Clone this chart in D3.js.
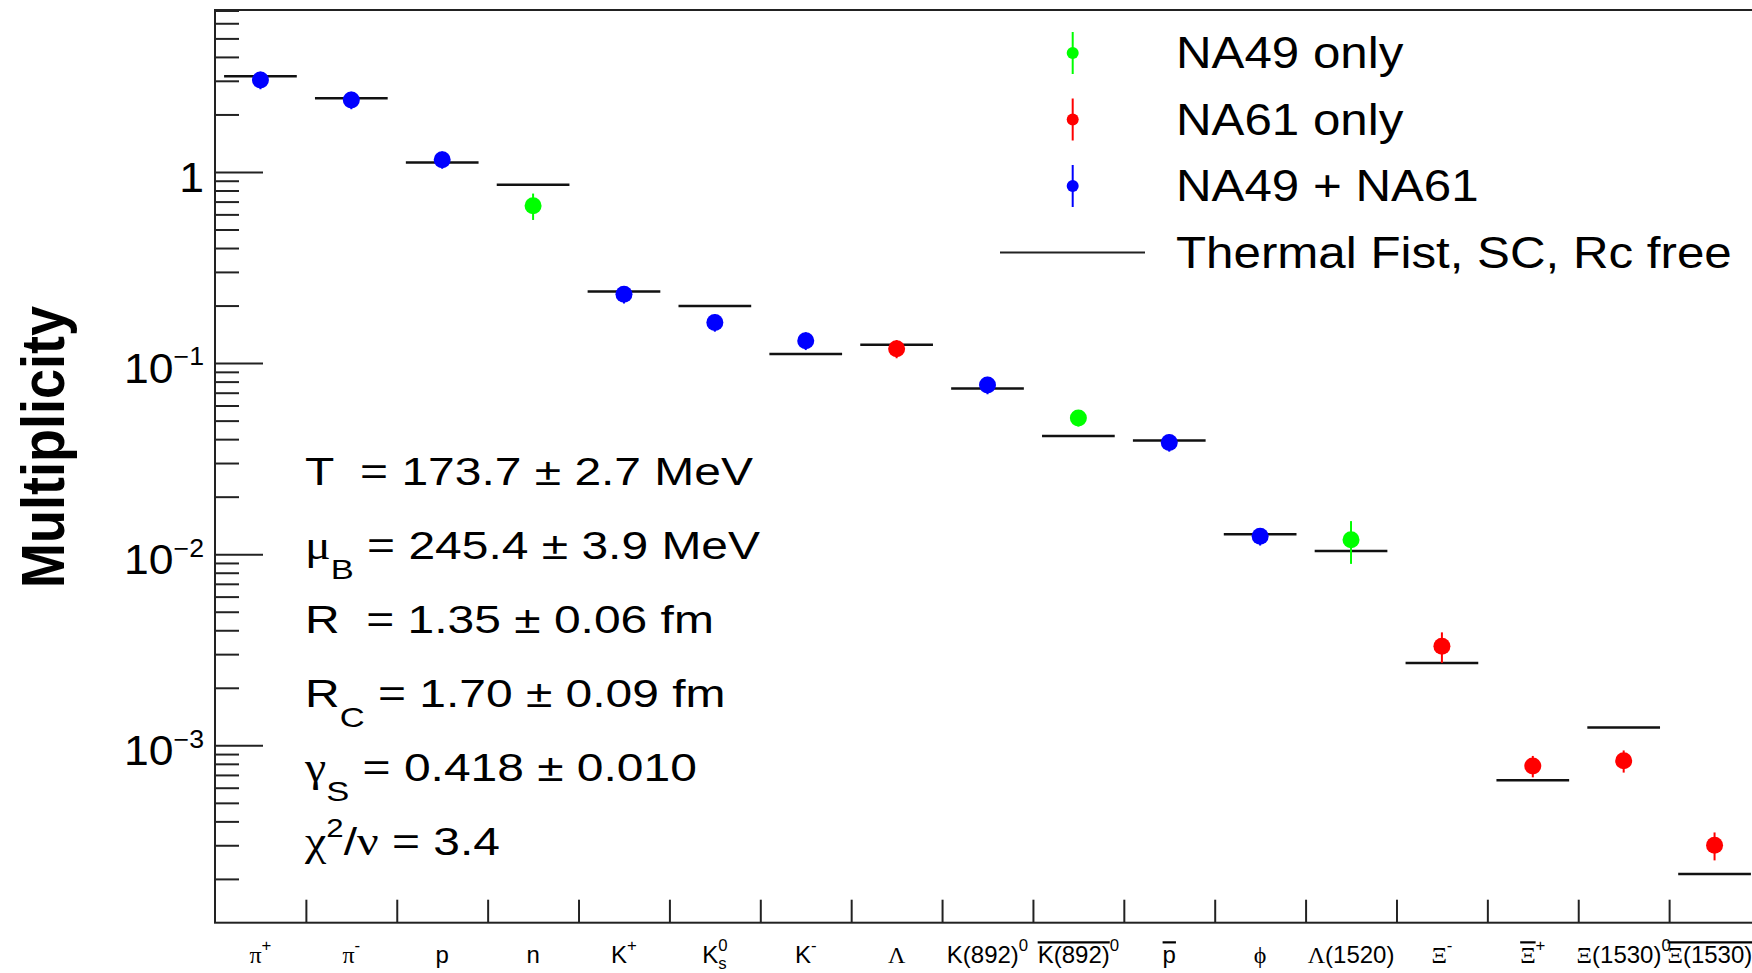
<!DOCTYPE html>
<meta charset="utf-8" />
<style>
  body { margin: 0; background: #fff; }
  svg { display: block; }
  text { font-family: "Liberation Sans", Arial, sans-serif; white-space: pre; fill: #000; }
  .greek { font-family: "Liberation Serif", "DejaVu Serif", serif; }
  .tick line { stroke: #222; stroke-width: 2px; }
</style>
<body>
<script src="https://d3js.org/d3.v7.min.js"></script>
<script>
  // particle names, written in a TLatex-like markup
  var particles = ['π^{+}', 'π^{-}', 'p', 'n', 'K^{+}', 'K^{0}_{s}', 'K^{-}', 'Λ',
    'K(892)^{0}', '#bar{K(892)}^{0}', '#bar{p}', 'ϕ', 'Λ(1520)', 'Ξ^{-}',
    '#bar{Ξ}^{+}', 'Ξ(1530)^{0}', '#bar{Ξ(1530)}^{0}'];

  // measured yields and which experiment they come from
  var multiplicity = [3.03, 2.38, 1.16, 0.666, 0.229, 0.163, 0.131, 0.119,
    0.0767, 0.0516, 0.0384, 0.0124, 0.0119, 0.0033, 0.00078, 0.00083, 0.00030];
  var multiplicityErr = [0.32, 0.25, 0.12, 0.105, 0.024, 0.017, 0.014, 0.013,
    0.008, 0.005, 0.004, 0.0013, 0.003, 0.0006, 0.0001, 0.00011, 0.00005];
  var dataSource = [2, 2, 2, 0, 2, 2, 2, 1, 2, 0, 2, 2, 0, 1, 1, 1, 1];

  // Thermal Fist fit
  var thermalFist = [3.17, 2.43, 1.12, 0.858, 0.237, 0.199, 0.1115, 0.1247,
    0.0737, 0.0416, 0.0394, 0.0127, 0.0104, 0.0027, 0.000657, 0.00124, 0.000212];

  var sources = ['NA49 only', 'NA61 only', 'NA49 + NA61'];
  var sourceColors = ['#00ff00', '#ff0000', '#0000ff'];
  var modelLabel = 'Thermal Fist, SC, Rc free';

  var fitResults = ['T  = 173.7 ± 2.7 MeV', 'μ_{B} = 245.4 ± 3.9 MeV', 'R  = 1.35 ± 0.06 fm',
    'R_{C} = 1.70 ± 0.09 fm', 'γ_{S} = 0.418 ± 0.010', 'χ^{2}/ν = 3.4'];

  var yMajor = [1e-3, 1e-2, 1e-1, 1];
  var yMajorLabels = ['10^{−3}', '10^{−2}', '10^{−1}', '1'];

  var W = 1752, H = 973;
  var frame = { left: 215, top: 10, right: 1760, bottom: 922.7 };

  var svg = d3.select('body').append('svg').attr('width', W).attr('height', H);

  var x = d3.scaleLinear().domain([0, particles.length]).range([frame.left, frame.right]);
  var y = d3.scaleLog().domain([1.18e-4, 7.04]).range([frame.bottom, frame.top]);

  // tiny parser for ^{..} _{..} #bar{..}
  function parseMarkup(str) {
    var out = [], buf = '', i = 0;
    function flush() { if (buf) { out.push({ text: buf, mode: 'base', bar: false }); buf = ''; } }
    while (i < str.length) {
      var m = null;
      if (str.startsWith('^{', i)) m = ['sup', 2, false];
      else if (str.startsWith('_{', i)) m = ['sub', 2, false];
      else if (str.startsWith('#bar{', i)) m = ['base', 5, true];
      if (m) {
        flush();
        var end = str.indexOf('}', i + m[1]);
        out.push({ text: str.slice(i + m[1], end), mode: m[0], bar: m[2] });
        i = end + 1;
      } else { buf += str[i]; i++; }
    }
    flush();
    return out;
  }

  function richText(g, str, size, opt) {
    var text = g.append('text').attr('font-size', size);
    if (opt.anchor) text.attr('text-anchor', opt.anchor);
    if (opt.weight) text.attr('font-weight', opt.weight);
    var shift = 0, prevSupWidth = 0, bars = [];
    parseMarkup(str).forEach(function (tok) {
      var target = tok.mode === 'sup' ? opt.supShift * size : tok.mode === 'sub' ? opt.subShift * size : 0;
      var fs = tok.mode === 'sup' ? opt.supScale * size : tok.mode === 'sub' ? opt.subScale * size : size;
      var runs = tok.text.match(/[\u0370-\u03ff]+|[^\u0370-\u03ff]+/g) || [];
      var leaves = [], width = 0;
      runs.forEach(function (r, k) {
        var ts = text.append('tspan').attr('font-size', fs).text(r);
        if (/[\u0370-\u03ff]/.test(r)) ts.attr('class', 'greek');
        if (k === 0) {
          ts.attr('dy', target - shift);
          if (tok.mode === 'sub' && prevSupWidth) ts.attr('dx', -prevSupWidth);
        }
        shift = target;
        leaves.push(ts.node());
        width += ts.node().getComputedTextLength();
      });
      prevSupWidth = tok.mode === 'sup' ? width : 0;
      if (tok.bar) bars.push({ leaves: leaves, size: fs });
    });
    bars.forEach(function (b) {
      var first = b.leaves[0], last = b.leaves[b.leaves.length - 1];
      var x0 = first.getStartPositionOfChar(0).x;
      var x1 = last.getEndPositionOfChar(last.getNumberOfChars() - 1).x;
      g.append('line')
        .attr('x1', x0).attr('x2', x1)
        .attr('y1', -0.86 * b.size).attr('y2', -0.86 * b.size)
        .attr('stroke', '#000').attr('stroke-width', 2.2);
    });
    return text;
  }

  // y axis ticks (inside the frame)
  var minor = y.ticks().filter(function (v) {
    var l = Math.log10(v);
    return Math.abs(l - Math.round(l)) > 1e-6 && v >= y.domain()[0] && v <= y.domain()[1];
  });
  svg.append('g').attr('transform', 'translate(' + frame.left + ',0)')
    .call(d3.axisLeft(y).tickValues(minor).tickSize(-24).tickFormat(''))
    .call(function (g) { g.select('.domain').remove(); });
  svg.append('g').attr('transform', 'translate(' + frame.left + ',0)')
    .call(d3.axisLeft(y).tickValues(yMajor).tickSize(-48).tickFormat(''))
    .call(function (g) { g.select('.domain').remove(); });

  yMajor.forEach(function (v, i) {
    var g = svg.append('g').attr('transform', 'translate(204,' + (y(v) + 20) + ') scale(1.06,1)');
    richText(g, yMajorLabels[i], 42, { anchor: 'end', supScale: 0.6, supShift: -0.42 });
  });

  // x axis ticks at bin edges
  svg.append('g').attr('transform', 'translate(0,' + frame.bottom + ')')
    .call(d3.axisBottom(x).tickValues(d3.range(1, particles.length)).tickSize(-23).tickFormat(''))
    .call(function (g) { g.select('.domain').remove(); });

  particles.forEach(function (p, i) {
    var g = svg.append('g').attr('transform', 'translate(' + x(i + 0.5) + ',963)');
    richText(g, p, 24, { anchor: 'middle', supScale: 0.7, supShift: -0.5, subScale: 0.7, subShift: 0.25 });
  });

  // frame
  svg.append('rect')
    .attr('x', frame.left).attr('y', frame.top)
    .attr('width', frame.right - frame.left).attr('height', frame.bottom - frame.top)
    .attr('fill', 'none').attr('stroke', '#222').attr('stroke-width', 2);

  // model lines
  svg.append('g').selectAll('line')
    .data(thermalFist)
    .join('line')
    .attr('x1', function (d, i) { return x(i + 0.1); })
    .attr('x2', function (d, i) { return x(i + 0.9); })
    .attr('y1', function (d) { return y(d); })
    .attr('y2', function (d) { return y(d); })
    .attr('stroke', '#111').attr('stroke-width', 2.5);

  // data points with error bars
  var pts = svg.append('g').selectAll('g')
    .data(multiplicity)
    .join('g');
  pts.append('line')
    .attr('x1', function (d, i) { return x(i + 0.5); })
    .attr('x2', function (d, i) { return x(i + 0.5); })
    .attr('y1', function (d, i) { return y(d + multiplicityErr[i]); })
    .attr('y2', function (d, i) { return y(Math.max(d - multiplicityErr[i], 1e-6)); })
    .attr('stroke', function (d, i) { return sourceColors[dataSource[i]]; })
    .attr('stroke-width', 2);
  pts.append('circle')
    .attr('cx', function (d, i) { return x(i + 0.5); })
    .attr('cy', function (d) { return y(d); })
    .attr('r', 8.5)
    .attr('fill', function (d, i) { return sourceColors[dataSource[i]]; });

  // legend
  var legendX = 1072.7, legendTextX = 1176;
  var legendRows = sources.concat([modelLabel]);
  legendRows.forEach(function (label, i) {
    var ry = 53 + i * 66.5;
    if (i < sources.length) {
      svg.append('line')
        .attr('x1', legendX).attr('x2', legendX)
        .attr('y1', ry - 21).attr('y2', ry + 21)
        .attr('stroke', sourceColors[i]).attr('stroke-width', 2);
      svg.append('circle').attr('cx', legendX).attr('cy', ry).attr('r', 6)
        .attr('fill', sourceColors[i]);
    } else {
      svg.append('line')
        .attr('x1', 1000).attr('x2', 1145)
        .attr('y1', ry).attr('y2', ry)
        .attr('stroke', '#222').attr('stroke-width', 2);
    }
    var g = svg.append('g').attr('transform', 'translate(' + legendTextX + ',' + (ry + 15) + ') scale(1.12,1)');
    richText(g, label, 44, {});
  });

  // fit results
  fitResults.forEach(function (s, i) {
    var g = svg.append('g').attr('transform', 'translate(305,' + (485 + i * 74) + ') scale(1.23,1)');
    richText(g, s, 39, { supScale: 0.65, supShift: -0.45, subScale: 0.72, subShift: 0.5 });
  });

  // y title
  var tg = svg.append('g').attr('transform', 'translate(64,447) scale(1.12,1) rotate(-90)');
  richText(tg, 'Multiplicity', 54, { anchor: 'middle', weight: 'bold' });
</script>
</body>
